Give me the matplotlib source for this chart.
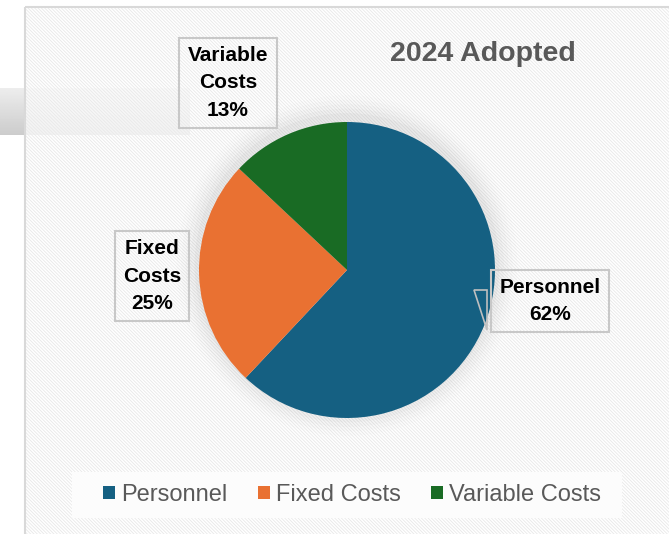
import numpy as np
import matplotlib.pyplot as plt
from matplotlib.patches import Rectangle, Circle, Polygon

# data
categories = ["Personnel", "Fixed Costs", "Variable Costs"]
shares = [62, 25, 13]
colors = ["#156082", "#E97132", "#196B24"]
title = "2024 Adopted"

W, H = 669, 534
plt.rcParams["font.family"] = ["Liberation Sans", "DejaVu Sans"]
plt.rcParams["hatch.linewidth"] = 0.6

fig = plt.figure(figsize=(W / 100, H / 100), dpi=100)
fig.patch.set_facecolor("white")

# background layer in pixel coordinates
bg = fig.add_axes([0, 0, 1, 1], zorder=0)
bg.set_xlim(0, W)
bg.set_ylim(H, 0)
bg.axis("off")

# grey bar peeking out behind the chart
grad = np.linspace(0.93, 0.80, 50).reshape(-1, 1)
bg.imshow(grad, extent=(0, 190, 135, 88), cmap="gray", vmin=0, vmax=1,
          aspect="auto", zorder=0)

# chart frame with faint diagonal hatch
bg.add_patch(Rectangle((25, 7), W, H, facecolor="white", alpha=0.78,
                       edgecolor="none", zorder=1))
bg.add_patch(Rectangle((25, 7), W, H, facecolor="none", edgecolor="#e8e8e8",
                       hatch="\\" * 10, linewidth=0, zorder=2))
bg.add_patch(Rectangle((25, 7), W, H, facecolor="none", edgecolor="#d9d9d9",
                       linewidth=1.5, zorder=3))

# legend box
bg.add_patch(Rectangle((72, 472), 550, 46, facecolor="#fcfcfc",
                       edgecolor="none", zorder=3))

bg.text(483, 54, title, fontsize=20.5, fontweight="bold", color="#595959",
        ha="center", va="center", zorder=5)

# pie
cx, cy, r = 347, 270, 148
ax = fig.add_axes([(cx - r) / W, 1 - (cy + r) / H, 2 * r / W, 2 * r / H], zorder=2)
ax.patch.set_visible(False)
for k, a in enumerate([0.05, 0.04, 0.03, 0.02, 0.015]):
    ax.add_patch(Circle((0.0, 0.03), 1.0 + 0.03 * (k + 1), color="#808080",
                        alpha=a, lw=0, zorder=0, clip_on=False))
wedges, _ = ax.pie(shares, colors=colors, startangle=90, counterclock=False,
                   radius=1.0, wedgeprops=dict(linewidth=0))
for w in wedges:
    w.set_zorder(2)
ax.set_xlim(-1, 1)
ax.set_ylim(-1, 1)
ax.axis("off")

# overlay for data labels
fg = fig.add_axes([0, 0, 1, 1], zorder=3)
fg.set_xlim(0, W)
fg.set_ylim(H, 0)
fg.axis("off")
fg.patch.set_visible(False)

label_pos = [(550, 301), (152, 276), (228, 83)]
for name, val, (lx, ly) in zip(categories, shares, label_pos):
    txt = name.replace(" ", "\n") if name != "Personnel" else name
    fg.text(lx, ly, f"{txt}\n{val}%", fontsize=15, fontweight="bold",
            color="black", ha="center", va="center", linespacing=1.55,
            bbox=dict(boxstyle="square,pad=0.4", facecolor="none",
                      edgecolor="#c8c8c8", linewidth=1.5))

# leader for Personnel label
fg.add_patch(Polygon([(474, 290), (487, 290), (487, 330)], closed=True,
                     facecolor="none", edgecolor="#bfbfbf", linewidth=1.2))

# legend
fig.legend(wedges, categories, loc="center", bbox_to_anchor=(352 / W, 1 - 495 / H),
           ncol=3, frameon=False, fontsize=17, labelcolor="#595959",
           handlelength=0.5, handleheight=0.5, handletextpad=0.25,
           columnspacing=1.3)

fig.savefig("out.png", dpi=100)
